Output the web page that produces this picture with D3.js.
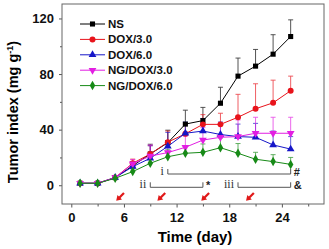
<!DOCTYPE html>
<html>
<head>
<meta charset="utf-8">
<script src="https://cdn.jsdelivr.net/npm/d3@7"></script>
<style>
  body { margin: 0; background: #fff; }
  svg { display: block; font-family: "Liberation Sans", Arial, sans-serif; }
  .tick text { font-weight: bold; font-size: 13px; fill: #111; }
  .tick line { stroke: #555; }
</style>
</head>
<body>
<svg id="chart"></svg>
<script>
// data
const days = [1, 3, 5, 7, 9, 11, 13, 15, 17, 19, 21, 23, 25];
const seriesNames = ['NS', 'DOX/3.0', 'DOX/6.0', 'NG/DOX/3.0', 'NG/DOX/6.0'];
const ns       = [1.4, 1.4, 5.5, 14, 22.5, 30.6, 44, 46.5, 59, 78.5, 85.7, 94.3, 107];
const nsErr    = [0.8, 0.8, 1.5, 3, 7, 9, 10, 9.5, 11.5, 13, 12, 14, 12];
const dox3     = [1.4, 1.4, 5.5, 15.8, 22.5, 31, 37, 43.8, 43.8, 48.9, 55, 59.3, 68];
const dox3Err  = [0.8, 0.8, 1.5, 3, 6, 8, 7, 7, 8, 16.5, 18, 16.3, 10.5];
const dox6     = [1.4, 1.4, 5.5, 13.4, 19.4, 28, 37.4, 39, 36.5, 35, 34.5, 29, 26];
const dox6Err  = [0.8, 0.8, 1.5, 3, 9, 10, 8, 9, 9, 9, 10, 10, 9];
const ngdox3   = [1.4, 1.4, 5.5, 15.5, 21, 23.5, 27.3, 32.5, 34.5, 35, 37.4, 37.4, 37.4];
const ngdox3Err= [0.8, 0.8, 1.5, 3, 8, 8, 8, 9, 10, 12, 11.5, 11.5, 11.5];
const ngdox6   = [1.4, 1.4, 5, 9.8, 15.8, 20.5, 23, 23.7, 27, 23, 18.7, 17, 15];
const ngdox6Err= [0.8, 0.8, 1, 2, 4, 5, 5, 6, 7, 7, 5, 5, 5];

const xTicks = [0, 6, 12, 18, 24];
const xMinor = [3, 9, 15, 21, 27];
const yTicks = [0, 40, 80, 120];
const yMinor = [20, 60, 100];

// dosing arrows (day) and significance brackets
const arrowDays = [5.6, 10.3, 15.3, 20.4];
const brackets = [
  {label: 'i', from: 11, to: 25, mark: '#', level: 0},
  {label: 'ii', from: 9, to: 15, mark: '*', level: 1},
  {label: 'iii', from: 19, to: 25, mark: '&', level: 1}
];

const W = 329, H = 249;
const margin = {top: 4, right: 5, bottom: 45, left: 62};
const width = W - margin.left - margin.right;
const height = H - margin.top - margin.bottom;

const colors = ['#000000', '#e8131b', '#1616c8', '#e21ee2', '#178a17'];
const symbols = [d3.symbolSquare, d3.symbolCircle, d3.symbolTriangle, d3.symbolTriangle, d3.symbolDiamond];
const symSize = [26, 28, 26, 26, 26];
const values = [ns, dox3, dox6, ngdox3, ngdox6];
const errs = [nsErr, dox3Err, dox6Err, ngdox3Err, ngdox6Err];

const series = seriesNames.map((name, i) => ({
  name: name,
  color: colors[i],
  symbol: symbols[i],
  flip: i === 3,
  size: symSize[i],
  points: days.map((d, j) => ({day: d, v: values[i][j], e: errs[i][j]}))
}));

const svg = d3.select('#chart').attr('width', W).attr('height', H);
const chart = svg.append('g').attr('transform', `translate(${margin.left},${margin.top})`);

const x = d3.scaleLinear().domain([-1.06, 28.8]).range([0, width]);
const y = d3.scaleLinear().domain([-13.5, 130.4]).range([height, 0]);

// axes
const xAxisG = chart.append('g').attr('transform', `translate(0,${height})`)
  .call(d3.axisBottom(x).tickValues(xTicks).tickSize(3.5).tickPadding(5));
xAxisG.select('.domain').remove();
chart.append('g').attr('transform', `translate(0,${height})`)
  .call(d3.axisBottom(x).tickValues(xMinor).tickSize(2.5).tickFormat(''))
  .call(g => g.select('.domain').remove());

const yAxisG = chart.append('g')
  .call(d3.axisLeft(y).tickValues(yTicks).tickSize(3).tickPadding(5));
yAxisG.select('.domain').remove();
chart.append('g')
  .call(d3.axisLeft(y).tickValues(yMinor).tickSize(2).tickFormat(''))
  .call(g => g.select('.domain').remove());

// frame
chart.append('rect')
  .attr('width', width).attr('height', height)
  .attr('fill', 'none').attr('stroke', '#666').attr('stroke-width', 1);

// axis titles
svg.append('text')
  .attr('x', 195)
  .attr('y', 242)
  .attr('text-anchor', 'middle')
  .style('font-weight', 'bold').style('font-size', '15px')
  .text('Time (day)');

const yt = svg.append('text')
  .attr('transform', `translate(18,${112}) rotate(-90)`)
  .attr('text-anchor', 'middle')
  .style('font-weight', 'bold').style('font-size', '14.5px');
yt.append('tspan').text('Tumor index (mg g');
yt.append('tspan').attr('dy', -5).style('font-size', '9px').text('-1');
yt.append('tspan').attr('dy', 5).text(')');

// error bars (upper only)
series.forEach(s => {
  const g = chart.append('g').attr('stroke', s.color).attr('stroke-width', 0.9).attr('opacity', 0.75);
  g.selectAll('line.bar').data(s.points).enter().append('line')
    .attr('x1', d => x(d.day)).attr('x2', d => x(d.day))
    .attr('y1', d => y(d.v)).attr('y2', d => y(d.v + d.e));
  g.selectAll('line.cap').data(s.points).enter().append('line')
    .attr('x1', d => x(d.day) - 2.5).attr('x2', d => x(d.day) + 2.5)
    .attr('y1', d => y(d.v + d.e)).attr('y2', d => y(d.v + d.e));
});

// lines and markers
const line = d3.line().x(d => x(d.day)).y(d => y(d.v));
series.forEach(s => {
  chart.append('path').datum(s.points)
    .attr('d', line).attr('fill', 'none')
    .attr('stroke', s.color).attr('stroke-width', 1);
  chart.selectAll(null).data(s.points).enter().append('path')
    .attr('d', d3.symbol().type(s.symbol).size(s.size))
    .attr('transform', d => `translate(${x(d.day)},${y(d.v)})${s.flip ? ' rotate(180)' : ''}`)
    .attr('fill', s.color);
});

// legend
const legend = chart.append('g').attr('transform', 'translate(18,20)');
series.forEach((s, i) => {
  const row = legend.append('g').attr('transform', `translate(0,${i * 15.4})`);
  row.append('line').attr('x1', 0).attr('x2', 25).attr('stroke', s.color).attr('stroke-width', 1);
  row.append('path')
    .attr('d', d3.symbol().type(s.symbol).size(s.size))
    .attr('transform', `translate(12.5,0)${s.flip ? ' rotate(180)' : ''}`)
    .attr('fill', s.color);
  row.append('text').attr('x', 28).attr('y', 4)
    .style('font-weight', 'bold').style('font-size', '11.5px').attr('fill', '#111')
    .text(s.name);
});

// significance brackets
const levelY = [174, 187.3].map(v => v - margin.top);
brackets.forEach(b => {
  const by = levelY[b.level];
  const g = chart.append('g');
  g.append('path')
    .attr('d', `M${x(b.from)},${by - 5}V${by}H${x(b.to)}V${by - 5}`)
    .attr('fill', 'none').attr('stroke', '#555').attr('stroke-width', 1);
  g.append('text').attr('x', x(b.from) - 4).attr('y', by + 1)
    .attr('text-anchor', 'end')
    .style('font-family', '"Liberation Serif", serif').style('font-size', '12px').attr('fill', '#333')
    .text(b.label);
  g.append('text').attr('x', x(b.to) + 3).attr('y', by + 2)
    .style('font-weight', 'bold').style('font-size', '11px').attr('fill', '#222')
    .text(b.mark);
});

// dosing arrows
const arrowY = 196.5 - margin.top;
arrowDays.forEach(d => {
  const cx = x(d);
  const g = chart.append('g').attr('transform', `translate(${cx},${arrowY}) rotate(135)`);
  g.append('line').attr('x1', -5).attr('x2', 2).attr('y1', 0).attr('y2', 0)
    .attr('stroke', '#e01818').attr('stroke-width', 2.2);
  g.append('path').attr('d', 'M6,0L1,-3.2L1,3.2Z').attr('fill', '#e01818');
});
</script>
</body>
</html>
